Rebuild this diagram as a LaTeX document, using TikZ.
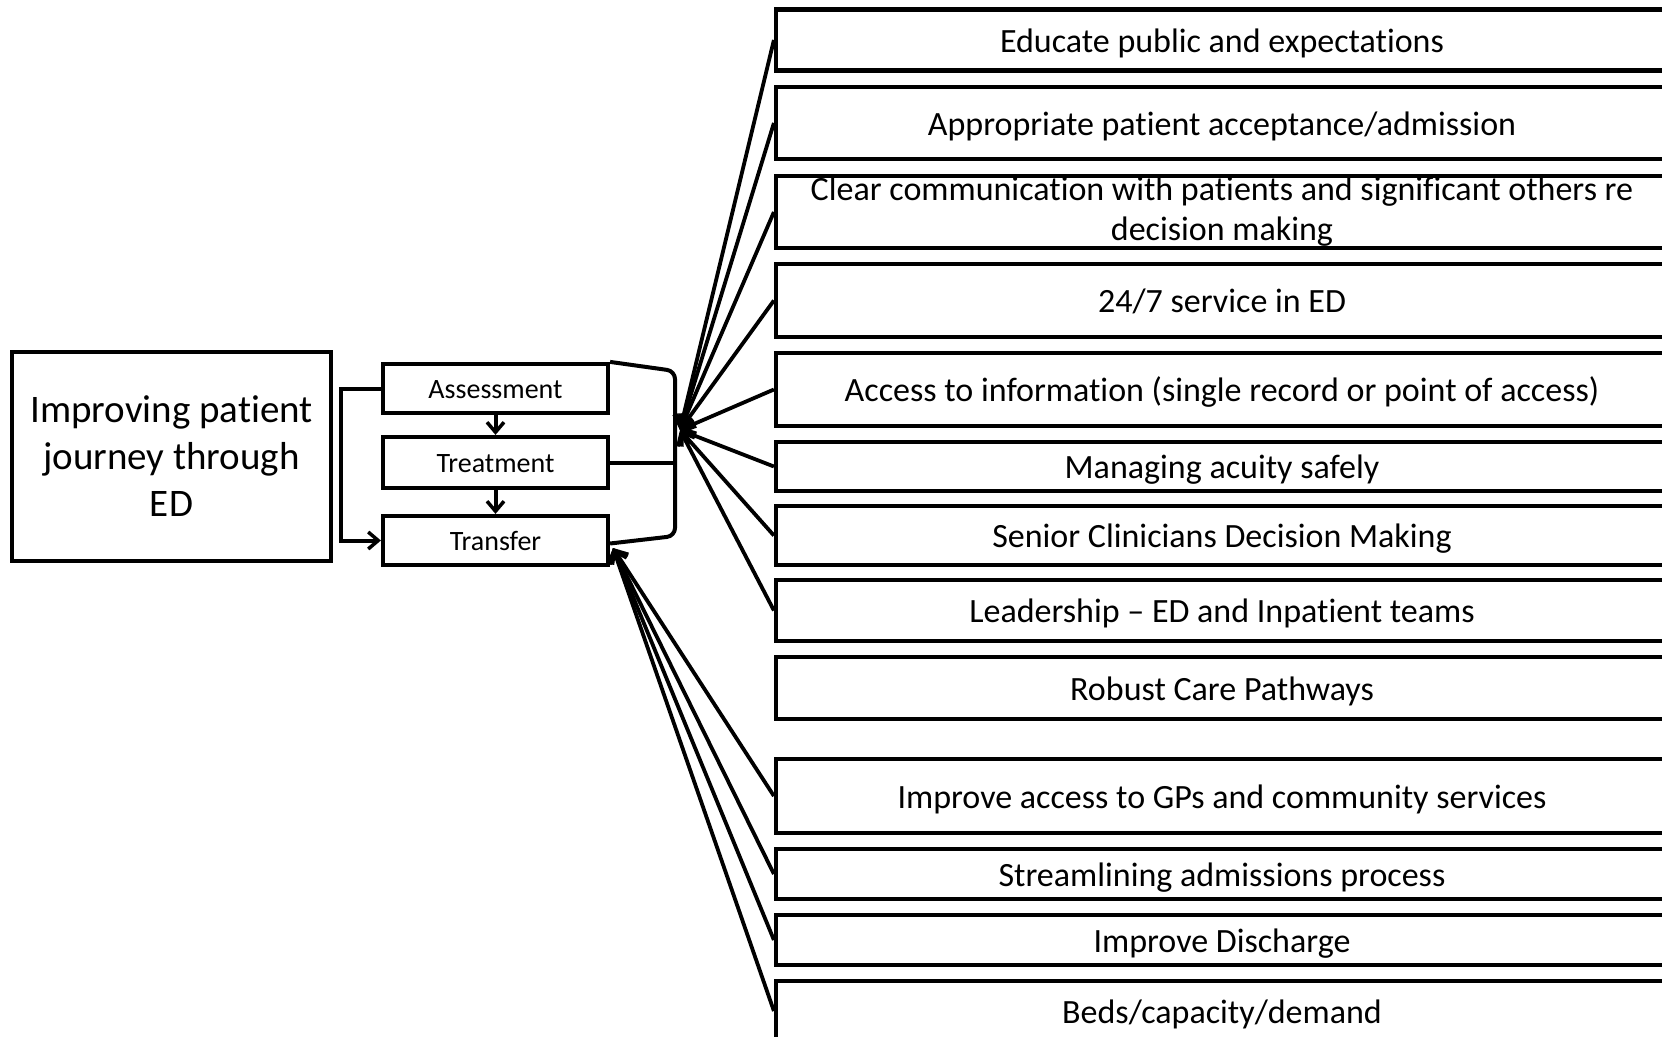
\documentclass[tikz,border=0pt]{standalone}
\usepackage{fontspec}
\setmainfont{Carlito}[RawFeature={-liga;-clig;-dlig}]
\usetikzlibrary{arrows.meta}
\begin{document}
\begin{tikzpicture}[x=1pt,y=-1pt,
  box/.style={draw, line width=4.2pt, inner sep=0pt, align=center},
  factor/.style={box, minimum width=892pt, font=\fontsize{34}{41}\selectfont,
                 text height=28pt, text depth=4pt},
  stage/.style={box, minimum width=225pt, font=\fontsize{28}{34}\selectfont,
                text height=23pt, text depth=3pt},
  link/.style={line width=3.8pt, -{Straight Barb[length=11pt,width=19pt,line width=3.5pt]}},
  flow/.style={line width=4pt, -{Straight Barb[length=10pt,width=17pt,line width=3.5pt]}},
  ]
\useasboundingbox (0,0) rectangle (1662,1036);

% main theme
\node[box, minimum width=319pt, minimum height=209pt,
      font=\fontsize{39}{47}\selectfont] (main) at (171.5,456.5)
  {Improving patient\\journey through\\ED};

% patient journey stages
\node[stage, minimum height=49pt] (asmt)  at (495.5,388.5) {Assessment};
\node[stage, minimum height=51pt] (treat) at (495.5,462.5) {Treatment};
\node[stage, minimum height=49pt] (trans) at (495.5,540.5) {Transfer};

\draw[flow] (asmt) -- (treat);
\draw[flow] (treat) -- (trans);
\draw[flow] (asmt.west) -- ++(-40,0) |- (trans.west);

% bracket gathering the three stages
\coordinate (btop) at (675,371);
\coordinate (bbot) at (675,536);
\draw[line width=4pt, rounded corners=8pt]
  (asmt.north east) -- (btop) -- (bbot) -- ([yshift=-3pt]trans.east);
\draw[line width=4pt] (treat.east) -- (675,462.5);

% hubs where the factor arrows meet
\coordinate (hubA) at (680,430);
\coordinate (hubB) at (613,548);

% contributing factors
\node[factor, minimum height=61pt] (f1)  at (1222,40)    {Educate public and expectations};
\node[factor, minimum height=72pt] (f2)  at (1222,123)   {Appropriate patient acceptance/admission};
\node[factor, minimum height=72pt] (f3)  at (1222,212)   {};
\node[font=\fontsize{34}{40}\selectfont, align=center] (f3t) at (1222,212)
  {Clear communication with patients and significant others re\\decision making};
\node[factor, minimum height=73pt] (f4)  at (1222,300.5) {24/7 service in ED};
\node[factor, minimum height=73pt] (f5)  at (1222,389.5) {Access to information (single record or point of access)};
\node[factor, minimum height=49pt] (f6)  at (1222,466.5) {Managing acuity safely};
\node[factor, minimum height=59pt] (f7)  at (1222,535.5) {Senior Clinicians Decision Making};
\node[factor, minimum height=61pt] (f8)  at (1222,610.5) {Leadership -- ED and Inpatient teams};
\node[factor, minimum height=62pt] (f9)  at (1222,688)   {Robust Care Pathways};
\node[factor, minimum height=74pt] (f10) at (1222,796)   {Improve access to GPs and community services};
\node[factor, minimum height=50pt] (f11) at (1222,874)   {Streamlining admissions process};
\node[factor, minimum height=50pt] (f12) at (1222,940)   {Improve Discharge};
\node[factor, minimum height=60pt] (f13) at (1222,1011)  {Beds/capacity/demand};

\foreach \f in {f1,f2,f3,f4,f5,f6,f7,f8}
  \draw[link] (\f.west) -- (hubA);
\foreach \f in {f10,f11,f12,f13}
  \draw[link] (\f.west) -- (hubB);
\end{tikzpicture}
\end{document}
